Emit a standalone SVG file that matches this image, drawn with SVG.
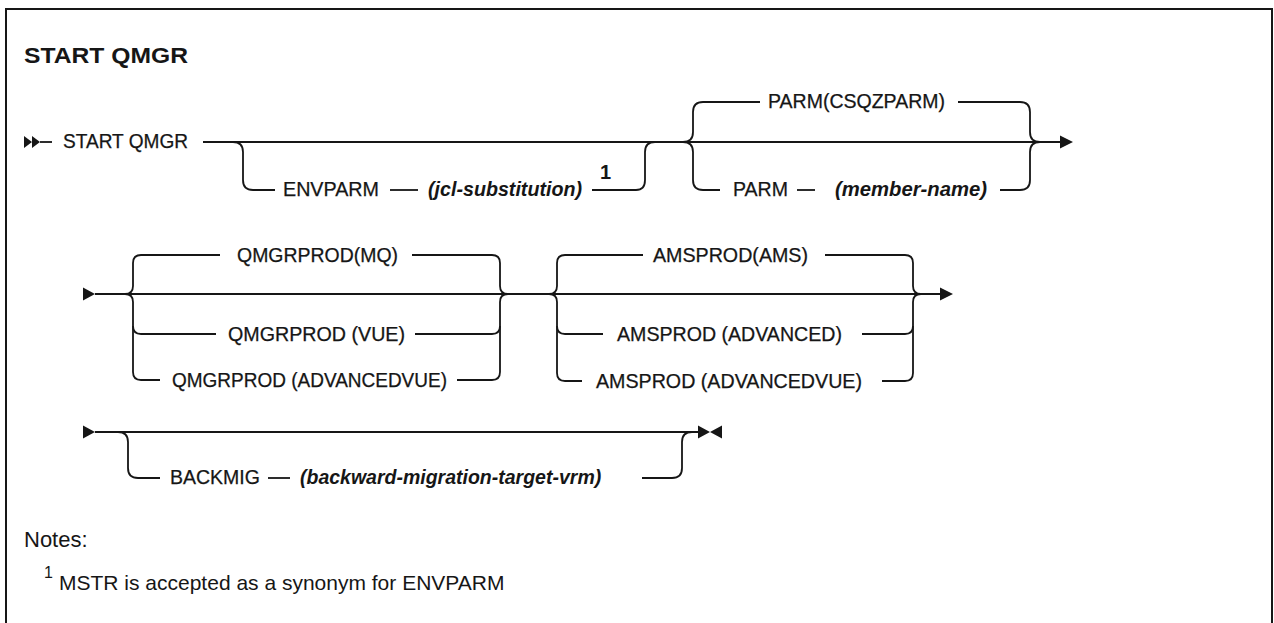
<svg xmlns="http://www.w3.org/2000/svg" width="1274" height="623" viewBox="0 0 1274 623">
<style>
text{font-family:"Liberation Sans",Arial,sans-serif;fill:#161616}
.k{font-size:19.5px;stroke:#161616;stroke-width:0.25}
.v{font-size:19.5px;font-weight:bold;font-style:italic}
.title{font-size:22px;font-weight:bold}
.n{font-size:21px}
.nt{font-size:22px}
.sup{font-size:20px;font-weight:bold}
.supn{font-size:16px}
.ln{fill:none;stroke:#161616;stroke-width:1.8}
.ah{fill:#161616;stroke:none}
</style>
<rect x="6" y="9" width="1266" height="640" fill="#fff" stroke="#161616" stroke-width="2"/>
<text class="title" x="24" y="63" textLength="164" lengthAdjust="spacingAndGlyphs">START QMGR</text>

<g id="connectors">
  <!-- row 1 -->
  <path class="ah" d="M24,136 L32,142 L24,148 Z M32,136 L40,142 L32,148 Z"/>
  <path class="ln" d="M40,142 H52"/>
  <path class="ln" d="M203,142 H1062"/>
  <path class="ah" d="M1060,135.5 L1073,142 L1060,148.5 Z"/>
  <path class="ln" d="M233,142 Q243,142 243,152 V180 Q243,190 253,190 H275"/>
  <path class="ln" d="M390,190 H418"/>
  <path class="ln" d="M592,190 H636 Q645,190 645,180 V152 Q645,142 655,142"/>
  <path class="ln" d="M683,142 Q693,142 693,132 V112 Q693,102 703,102 H760"/>
  <path class="ln" d="M683,142 Q693,142 693,152 V180 Q693,190 703,190 H720"/>
  <path class="ln" d="M797,190 H815"/>
  <path class="ln" d="M958,102 H1020 Q1030,102 1030,112 V132 Q1030,142 1040,142"/>
  <path class="ln" d="M1000,190 H1020 Q1030,190 1030,180 V152 Q1030,142 1040,142"/>
  <!-- row 2 -->
  <path class="ah" d="M83,287.5 L95,294 L83,300.5 Z"/>
  <path class="ln" d="M95,294 H942"/>
  <path class="ah" d="M940,287.5 L953,294 L940,300.5 Z"/>
  <path class="ln" d="M125,294 Q133,294 133,286 V263 Q133,255 141,255 H220"/>
  <path class="ln" d="M125,294 Q133,294 133,302 V372 Q133,380 141,380 H160"/>
  <path class="ln" d="M133,326 Q133,334 141,334 H216"/>
  <path class="ln" d="M412,255 H492 Q500,255 500,263 V286 Q500,294 508,294"/>
  <path class="ln" d="M415,334 H492 Q500,334 500,326"/>
  <path class="ln" d="M457,380 H492 Q500,380 500,372 V302 Q500,294 508,294"/>
  <path class="ln" d="M549,294 Q557,294 557,286 V263 Q557,255 565,255 H643"/>
  <path class="ln" d="M549,294 Q557,294 557,302 V373 Q557,381 565,381 H582"/>
  <path class="ln" d="M557,326 Q557,334 565,334 H603"/>
  <path class="ln" d="M825,255 H905 Q913,255 913,263 V286 Q913,294 921,294"/>
  <path class="ln" d="M862,334 H905 Q913,334 913,326"/>
  <path class="ln" d="M882,381 H905 Q913,381 913,373 V302 Q913,294 921,294"/>
  <!-- row 3 -->
  <path class="ah" d="M83,425.5 L95,432 L83,438.5 Z"/>
  <path class="ln" d="M95,432 H698"/>
  <path class="ah" d="M698,425.5 L710,432 L698,438.5 Z M722,425.5 L710,432 L722,438.5 Z"/>
  <path class="ln" d="M118,432 Q128,432 128,442 V468 Q128,478 138,478 H160"/>
  <path class="ln" d="M268,478 H290"/>
  <path class="ln" d="M642,478 H672 Q682,478 682,468 V442 Q682,432 692,432"/>
</g>

<g id="n-start"><text class="k" x="63" y="148" textLength="125" lengthAdjust="spacingAndGlyphs">START QMGR</text></g>
<g id="n-envparm">
  <text class="k" x="283" y="196" textLength="96" lengthAdjust="spacingAndGlyphs">ENVPARM</text>
  <text class="v" x="428" y="196" textLength="154" lengthAdjust="spacingAndGlyphs">(jcl-substitution)</text>
  <text class="sup" x="600" y="179">1</text>
</g>
<g id="n-parm-default"><text class="k" x="768" y="108" textLength="177" lengthAdjust="spacingAndGlyphs">PARM(CSQZPARM)</text></g>
<g id="n-parm">
  <text class="k" x="733" y="196" textLength="55" lengthAdjust="spacingAndGlyphs">PARM</text>
  <text class="v" x="835" y="196" textLength="152" lengthAdjust="spacingAndGlyphs">(member-name)</text>
</g>
<g id="n-qmgrprod-mq"><text class="k" x="237" y="262" textLength="161" lengthAdjust="spacingAndGlyphs">QMGRPROD(MQ)</text></g>
<g id="n-qmgrprod-vue"><text class="k" x="228" y="341" textLength="177" lengthAdjust="spacingAndGlyphs">QMGRPROD (VUE)</text></g>
<g id="n-qmgrprod-advvue"><text class="k" x="172" y="387" textLength="275" lengthAdjust="spacingAndGlyphs">QMGRPROD (ADVANCEDVUE)</text></g>
<g id="n-amsprod-ams"><text class="k" x="653" y="262" textLength="155" lengthAdjust="spacingAndGlyphs">AMSPROD(AMS)</text></g>
<g id="n-amsprod-adv"><text class="k" x="617" y="341" textLength="225" lengthAdjust="spacingAndGlyphs">AMSPROD (ADVANCED)</text></g>
<g id="n-amsprod-advvue"><text class="k" x="596" y="388" textLength="266" lengthAdjust="spacingAndGlyphs">AMSPROD (ADVANCEDVUE)</text></g>
<g id="n-backmig">
  <text class="k" x="170" y="484">BACKMIG</text>
  <text class="v" x="300" y="484">(backward-migration-target-vrm)</text>
</g>
<g id="notes">
  <text class="nt" x="24" y="547">Notes:</text>
  <text class="supn" x="44" y="578">1</text>
  <text class="n" x="59" y="590">MSTR is accepted as a synonym for ENVPARM</text>
</g>
</svg>
